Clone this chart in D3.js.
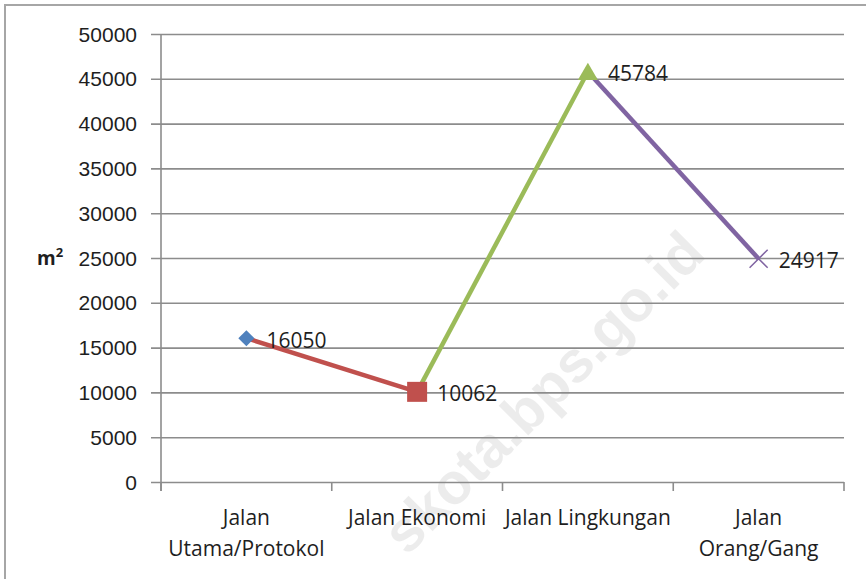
<!DOCTYPE html>
<html>
<head>
<meta charset="utf-8">
<script src="https://cdn.jsdelivr.net/npm/d3@7"></script>
<style>
    body { margin: 0; background: #fff; }
    svg { display: block; font-family: 'Open Sans', sans-serif; }
    .tick text, .cat-label, .value-label { font-size: 21px; fill: #1e1e1e; }
</style>
</head>
<body>
<svg id="chart" width="866" height="579"></svg>
<script>
// chart data
const categories = [
    ['Jalan', 'Utama/Protokol'],
    ['Jalan Ekonomi'],
    ['Jalan Lingkungan'],
    ['Jalan', 'Orang/Gang'],
];
const values = [16050, 10062, 45784, 24917];
const yTicks = [0, 5000, 10000, 15000, 20000, 25000, 30000, 35000, 40000, 45000, 50000];
const pointColors = ['#4F81BD', '#C0504D', '#9BBB59', '#8064A2'];
const markerTypes = ['diamond', 'square', 'triangle', 'cross'];

const margin = { top: 34, right: 22, bottom: 97, left: 161 };
const width = 866, height = 579;
const innerWidth = width - margin.left - margin.right;
const innerHeight = height - margin.top - margin.bottom;

const svg = d3.select('#chart');

// outer frame (only top and left edges fall inside the picture)
svg.append('path')
    .attr('d', `M5,${height}V5H${width}`)
    .attr('fill', 'none')
    .attr('stroke', '#a6a6a6')
    .attr('stroke-width', 2);

// watermark
svg.append('text')
    .attr('transform', 'translate(543,392) rotate(-45)')
    .attr('text-anchor', 'middle')
    .attr('dy', '0.35em')
    .style('font-family', "'Liberation Sans', Arial, sans-serif")
    .style('font-weight', 'bold')
    .style('font-size', '58px')
    .attr('fill', '#000')
    .attr('fill-opacity', 0.075)
    .text('skota.bps.go.id');

const g = svg.append('g')
    .attr('transform', `translate(${margin.left},${margin.top})`);

const x = d3.scaleBand()
    .domain(d3.range(categories.length))
    .range([0, innerWidth]);

const y = d3.scaleLinear()
    .domain([0, 50000])
    .range([innerHeight, 0]);

// y axis with gridlines
const yAxis = g.append('g')
    .attr('class', 'yAxis')
    .call(d3.axisLeft(y)
        .tickValues(yTicks)
        .tickFormat(d3.format('d'))
        .tickSizeInner(-innerWidth)
        .tickSizeOuter(0)
        .tickPadding(24));

yAxis.select('.domain').remove();
yAxis.selectAll('.tick line')
    .attr('x1', -10)
    .attr('stroke', '#8c8c8c')
    .attr('stroke-width', 1.6);
yAxis.selectAll('.tick text')
    .attr('dy', '0.34em');

// vertical axis line
g.append('line')
    .attr('x1', 0).attr('x2', 0)
    .attr('y1', 0).attr('y2', innerHeight + 9)
    .attr('stroke', '#8c8c8c')
    .attr('stroke-width', 1.6);

// x axis ticks at band edges
const edges = x.domain().map(i => x(i)).concat(innerWidth);
g.append('g')
    .selectAll('line')
    .data(edges)
    .enter().append('line')
    .attr('x1', d => d).attr('x2', d => d)
    .attr('y1', innerHeight).attr('y2', innerHeight + 9)
    .attr('stroke', '#8c8c8c')
    .attr('stroke-width', 1.6);

// category labels
const catLabels = g.append('g')
    .selectAll('text')
    .data(categories)
    .enter().append('text')
    .attr('class', 'cat-label')
    .attr('text-anchor', 'middle')
    .attr('x', (d, i) => x(i) + x.bandwidth() / 2)
    .attr('y', innerHeight + 43);

catLabels.selectAll('tspan')
    .data(d => d)
    .enter().append('tspan')
    .attr('x', function () { return d3.select(this.parentNode).attr('x'); })
    .attr('dy', (d, i) => i === 0 ? 0 : 31)
    .text(d => d);

// axis unit label
const unit = svg.append('text')
    .attr('x', 37)
    .attr('y', y(25000) + margin.top + 7)
    .style('font-size', '19px')
    .style('font-weight', 'bold')
    .attr('fill', '#1e1e1e');
unit.append('tspan').text('m');
unit.append('tspan').attr('dy', -8).style('font-size', '13px').text('2');

// line segments, each coloured after the point it leads to
const points = values.map((v, i) => ({ x: x(i) + x.bandwidth() / 2, y: y(v), value: v, i }));
const segments = d3.pairs(points);

g.append('g')
    .selectAll('line')
    .data(segments)
    .enter().append('line')
    .attr('x1', d => d[0].x).attr('y1', d => d[0].y)
    .attr('x2', d => d[1].x).attr('y2', d => d[1].y)
    .attr('stroke', d => pointColors[d[1].i])
    .attr('stroke-width', 4.5);

// markers
const markerPath = {
    diamond: d3.symbol(d3.symbolSquare, 130)(),
    square: d3.symbol(d3.symbolSquare, 400)(),
    triangle: d3.symbol(d3.symbolTriangle, 175)(),
    cross: d3.symbol(d3.symbolX, 215)(),
};
const markerTransform = {
    diamond: 'rotate(45)',
    square: '',
    triangle: 'translate(0,2.5)',
    cross: '',
};

g.append('g')
    .selectAll('path')
    .data(points)
    .enter().append('path')
    .attr('transform', d => `translate(${d.x},${d.y}) ${markerTransform[markerTypes[d.i]]}`)
    .attr('d', d => markerPath[markerTypes[d.i]])
    .attr('fill', d => markerTypes[d.i] === 'cross' ? 'none' : pointColors[d.i])
    .attr('stroke', d => markerTypes[d.i] === 'cross' ? pointColors[d.i] : 'none')
    .attr('stroke-width', 1.5);

// data labels
g.append('g')
    .selectAll('text')
    .data(points)
    .enter().append('text')
    .attr('class', 'value-label')
    .attr('x', d => d.x + 20)
    .attr('y', d => d.y + 2)
    .attr('dy', '0.35em')
    .text(d => d.value);
</script>
</body>
</html>
